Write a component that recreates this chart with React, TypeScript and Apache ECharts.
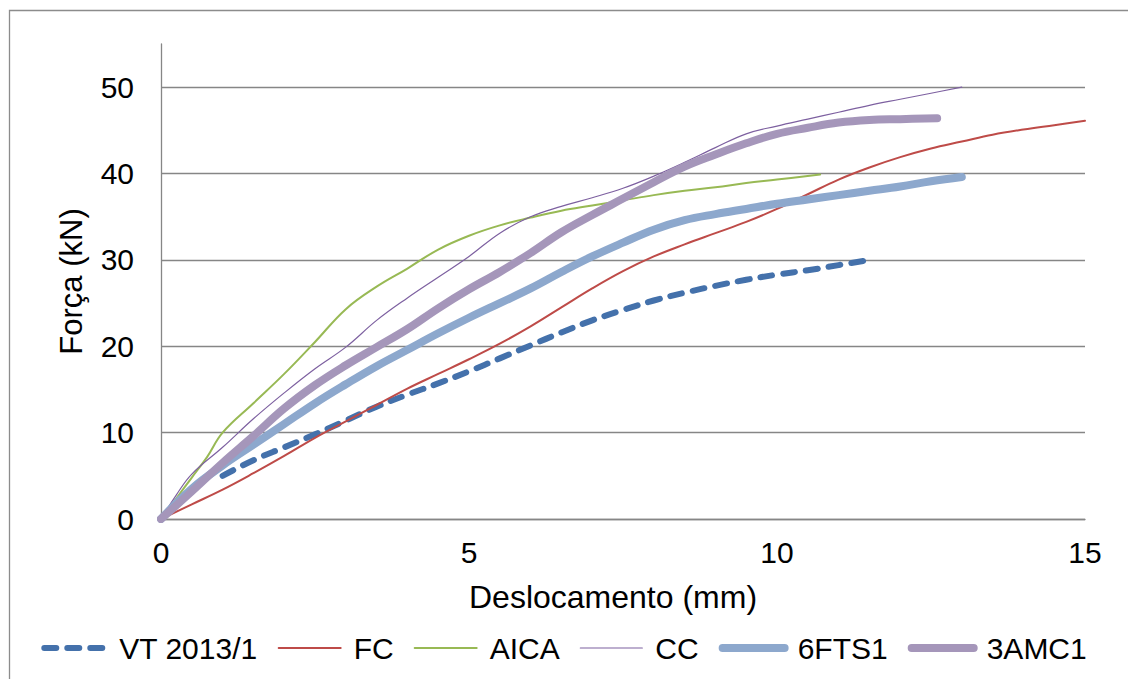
import React, { useEffect, useRef } from "react";
import * as echarts from "echarts";

const seriesNames = ["VT 2013/1", "FC", "AICA", "CC", "6FTS1", "3AMC1"];

const vt2013: number[][] = [
  [1, 5], [1.5, 6.8], [2, 8.3], [2.5, 9.8], [3, 11.4], [3.5, 13], [4, 14.4], [4.5, 15.7],
  [5, 17.1], [5.5, 18.6], [6, 20.1], [6.5, 21.6], [7, 23], [7.5, 24.2], [8, 25.3], [8.5, 26.2],
  [9, 27], [9.5, 27.7], [10, 28.3], [10.5, 28.8], [11, 29.4], [11.5, 30],
];

const fc: number[][] = [
  [0, 0], [0.5, 1.7], [1, 3.4], [1.5, 5.3], [2, 7.3], [2.5, 9.4], [3, 11.3], [3.5, 13.2],
  [4, 15.1], [4.5, 16.8], [5, 18.5], [5.5, 20.3], [6, 22.3], [6.5, 24.5], [7, 26.7], [7.5, 28.7],
  [8, 30.4], [8.5, 31.8], [9, 33.1], [9.5, 34.4], [10, 35.9], [10.5, 37.6], [11, 39.3], [11.5, 40.7],
  [12, 41.9], [12.5, 42.9], [13, 43.7], [13.5, 44.5], [14, 45.1], [14.5, 45.6], [15, 46.1],
];

const aica: number[][] = [
  [0, 0], [0.25, 2.4], [0.5, 4.8], [0.75, 7.2], [1, 10], [1.5, 13.4], [2, 16.8], [2.5, 20.5],
  [3, 24.3], [3.5, 26.9], [4, 29], [4.5, 31.2], [5, 32.8], [5.5, 34], [6, 34.9], [6.5, 35.7],
  [7, 36.3], [7.5, 36.9], [8, 37.5], [8.5, 38], [9, 38.4], [9.5, 38.9], [10, 39.3], [10.7, 39.9],
];

const cc: number[][] = [
  [0, 0], [0.25, 2.8], [0.5, 5.2], [1, 8.3], [1.5, 11.6], [2, 14.6], [2.5, 17.4], [3, 19.9],
  [3.5, 23], [4, 25.6], [4.5, 28], [5, 30.4], [5.5, 33.1], [6, 35], [6.5, 36.2], [7, 37.2],
  [7.5, 38.3], [8, 39.7], [8.5, 41.3], [9, 43], [9.5, 44.6], [10, 45.5], [10.5, 46.3], [11, 47.1],
  [11.5, 47.9], [12, 48.6], [12.5, 49.3], [13, 50],
];

const fts1: number[][] = [
  [0, 0], [0.5, 3.5], [1, 6.2], [1.5, 8.6], [2, 11], [2.5, 13.4], [3, 15.6], [3.5, 17.7],
  [4, 19.6], [4.5, 21.5], [5, 23.3], [5.5, 25], [6, 26.7], [6.5, 28.6], [7, 30.4], [7.5, 32],
  [8, 33.5], [8.5, 34.6], [9, 35.3], [9.5, 35.9], [10, 36.5], [10.5, 37], [11, 37.5], [11.5, 38],
  [12, 38.5], [12.5, 39.1], [13, 39.6],
];

const amc1: number[][] = [
  [0, 0], [0.5, 3.2], [1, 6.5], [1.5, 9.6], [2, 12.8], [2.5, 15.5], [3, 17.8], [3.5, 19.9],
  [4, 22], [4.5, 24.4], [5, 26.6], [5.5, 28.6], [6, 30.8], [6.5, 33.2], [7, 35.2], [7.5, 37.1],
  [8, 39], [8.5, 40.8], [9, 42.2], [9.5, 43.5], [10, 44.6], [10.5, 45.3], [11, 45.9], [11.5, 46.2],
  [12, 46.3], [12.6, 46.4],
];

const seriesData = [vt2013, fc, aica, cc, fts1, amc1];

const xAxisTitle = "Deslocamento (mm)";
const yAxisTitle = "Força (kN)";

const FONT = "'Liberation Sans', Arial, sans-serif";

const styles = [
  { color: "#4471AB", width: 6, type: [12, 11] as any },
  { color: "#BE4B48", width: 2, type: "solid" },
  { color: "#98B954", width: 2, type: "solid" },
  { color: "#7D60A0", width: 1.2, type: "solid" },
  { color: "#8DA8CD", width: 8, type: "solid" },
  { color: "#A596BA", width: 8, type: "solid" },
];

export default function App() {
  const ref = useRef<HTMLDivElement>(null);
  useEffect(() => {
    document.body.style.margin = "0";
    if (!ref.current) return;
    const chart = echarts.init(ref.current, undefined, { renderer: "svg" });
    chart.setOption({
      animation: false,
      backgroundColor: "#ffffff",
      textStyle: { fontFamily: FONT, color: "#000" },
      graphic: [
        {
          type: "rect",
          shape: { x: 9.5, y: 10.5, width: 1200, height: 800 },
          style: { fill: "none", stroke: "#8C8C8C", lineWidth: 1.3 },
          silent: true,
        },
      ],
      grid: { left: 161, right: 43, top: 44, bottom: 160, containLabel: false },
      xAxis: {
        type: "value",
        min: 0,
        max: 15,
        interval: 5,
        name: xAxisTitle,
        nameLocation: "middle",
        nameGap: 62,
        nameTextStyle: { fontSize: 32, color: "#000", fontFamily: FONT, padding: [0, 20, 0, 0] },
        axisLine: { show: true, lineStyle: { color: "#868686", width: 1.3 } },
        axisTick: { show: false },
        splitLine: { show: false },
        axisLabel: { fontSize: 30, color: "#000", margin: 18, fontFamily: FONT },
      },
      yAxis: {
        type: "value",
        min: 0,
        max: 55,
        interval: 10,
        name: yAxisTitle,
        nameLocation: "middle",
        nameGap: 74,
        nameTextStyle: { fontSize: 31, color: "#000", fontFamily: FONT },
        axisLine: { show: true, lineStyle: { color: "#868686", width: 1.3 } },
        axisTick: { show: false },
        splitLine: { show: true, showMaxLine: false, lineStyle: { color: "#868686", width: 1.3 } },
        axisLabel: { fontSize: 30, color: "#000", margin: 27, showMaxLabel: false, fontFamily: FONT },
      },
      legend: {
        data: seriesNames,
        left: "center",
        top: 628,
        itemWidth: 62,
        itemHeight: 14,
        itemGap: 20,
        textStyle: { fontSize: 30, color: "#000", fontFamily: FONT, padding: [0, 0, 0, 8] },
        itemStyle: { opacity: 0, borderWidth: 0 },
        lineStyle: { width: "inherit", cap: "round" } as any,
      },
      series: seriesNames.map((name, i) => ({
        name,
        type: "line",
        data: seriesData[i],
        smooth: 0.4,
        symbol: "none",
        showSymbol: false,
        lineStyle: {
          color: styles[i].color,
          width: styles[i].width,
          type: styles[i].type,
          cap: "round",
          join: "round",
        },
        itemStyle: { color: styles[i].color },
        emphasis: { disabled: true },
      })),
    });
    return () => chart.dispose();
  }, []);
  return <div ref={ref} style={{ width: 1128, height: 679 }} />;
}
